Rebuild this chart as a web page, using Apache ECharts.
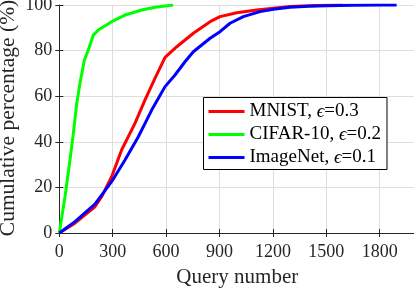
<!DOCTYPE html>
<html>
<head>
<meta charset="utf-8">
<script src="https://cdn.jsdelivr.net/npm/echarts@6/dist/echarts.min.js"></script>
<style>
html,body{margin:0;padding:0;background:#fff;}
#c{width:414px;height:288px;}
</style>
</head>
<body>
<div id="c"></div>
<script>
// ---- data ----
var seriesNames = ['MNIST', 'CIFAR-10', 'ImageNet'];
var seriesEps = ['0.3', '0.2', '0.1'];
var xTickLabels = ['0', '300', '600', '900', '1200', '1500', '1800'];
var yTickLabels = ['0', '20', '40', '60', '80', '100'];
var xTitle = 'Query number';
var yTitle = 'Cumulative percentage (%)';

var mnistX = [0, 88, 200, 238, 294, 350, 425, 481, 538, 594, 660, 753, 847, 903, 997, 1109, 1202, 1296, 1400, 1500, 1590];
var mnistY = [0, 4.3, 11.5, 15.9, 24.7, 36.4, 48.1, 58.3, 67.9, 77.0, 81.7, 87.6, 92.7, 94.9, 96.6, 97.8, 98.6, 99.3, 99.7, 99.9, 100];

var cifarX = [0, 32, 60, 79, 98, 116, 141, 163, 191, 219, 294, 369, 463, 538, 640];
var cifarY = [0, 15.9, 32, 43.7, 56.9, 65.7, 75.9, 80.3, 86.8, 89, 92.7, 95.6, 97.8, 99, 100];

var imagenetX = [0, 88, 200, 294, 369, 444, 519, 594, 650, 706, 753, 847, 903, 959, 1034, 1128, 1202, 1296, 1400, 1500, 1650, 1800, 1895];
var imagenetY = [0, 5, 12.7, 22.5, 32, 42.2, 53.9, 64.2, 69.3, 75.1, 79.5, 85.4, 88.3, 92, 94.9, 97.1, 98.1, 99, 99.5, 99.7, 99.9, 100, 100];

var colors = ['#ff0000', '#00ff00', '#0000ff'];

function pairs(xs, ys) {
  var out = [];
  for (var i = 0; i < xs.length; i++) out.push([xs[i], ys[i]]);
  return out;
}

var FONT = '"Liberation Serif", "Times New Roman", serif';
var AX = '#262626';
var chart = echarts.init(document.getElementById('c'), null, {renderer: 'canvas'});

var lineData = [pairs(mnistX, mnistY), pairs(cifarX, cifarY), pairs(imagenetX, imagenetY)];
var series = lineData.map(function (d, i) {
  return {
    name: seriesNames[i],
    type: 'line',
    data: d,
    showSymbol: false,
    symbol: 'none',
    lineStyle: {color: colors[i], width: 3},
    itemStyle: {color: colors[i]},
    xAxisIndex: 0,
    yAxisIndex: 0,
    z: 3 + i
  };
});

var option = {
  animation: false,
  backgroundColor: '#fff',
  grid: {left: 59.3, right: -1.3, top: 5, bottom: 55, containLabel: false, outerBoundsMode: 'none'},
  graphic: [{
    type: 'text',
    x: 8.5, y: 118,
    rotation: Math.PI / 2,
    style: {
      text: yTitle,
      fontFamily: FONT, fontSize: 21.5, fill: AX,
      textAlign: 'center', textVerticalAlign: 'middle'
    }
  }],
  xAxis: [{
    type: 'value', min: 0, max: 2000, interval: 300,
    name: xTitle, nameLocation: 'middle', nameGap: 34,
    nameTextStyle: {fontFamily: FONT, fontSize: 21, color: AX},
    axisLine: {show: true, lineStyle: {color: AX, width: 1}},
    axisTick: {show: true, inside: true, length: 4, lineStyle: {color: AX}},
    axisLabel: {
      fontFamily: FONT, fontSize: 18, color: AX, margin: 10, showMaxLabel: false,
      formatter: function (v) { var k = Math.round(v / 300); return xTickLabels[k] !== undefined && v % 300 === 0 ? xTickLabels[k] : ''; }
    },
    splitLine: {show: true, lineStyle: {color: '#dedede', width: 1}}
  }, {
    type: 'value', min: 0, max: 2000, interval: 300, position: 'top',
    axisLine: {show: false},
    axisTick: {show: true, inside: true, length: 4, lineStyle: {color: AX}},
    axisLabel: {show: false},
    splitLine: {show: false}
  }],
  yAxis: [{
    type: 'value', min: 0, max: 100, interval: 20,
    axisLine: {show: true, lineStyle: {color: AX, width: 1}},
    axisTick: {show: true, inside: true, length: 4, lineStyle: {color: AX}},
    axisLabel: {
      fontFamily: FONT, fontSize: 18, color: AX, margin: 7,
      formatter: function (v) { var k = Math.round(v / 20); return yTickLabels[k] !== undefined ? yTickLabels[k] : ''; }
    },
    splitLine: {show: true, lineStyle: {color: '#dedede', width: 1}}
  }, {
    type: 'value', min: 0, max: 100, interval: 20, position: 'right',
    axisLine: {show: false},
    axisTick: {show: true, inside: true, length: 4, lineStyle: {color: AX}},
    axisLabel: {show: false},
    splitLine: {show: false}
  }],
  legend: {
    orient: 'vertical',
    left: 203.5, top: 97.5,
    backgroundColor: '#fff',
    borderColor: '#000', borderWidth: 1, borderRadius: 0,
    padding: [4, 6, 2, 5],
    itemGap: 3,
    itemWidth: 36, itemHeight: 3,
    icon: 'rect',
    data: seriesNames,
    formatter: function (name) {
      var i = seriesNames.indexOf(name);
      return '{n|' + name + ', }{e|\u03f5}{n|=' + seriesEps[i] + '}';
    },
    textStyle: {
      fontFamily: FONT, fontSize: 19, color: '#000', lineHeight: 20,
      rich: {
        n: {fontFamily: FONT, fontSize: 19, color: '#000', lineHeight: 20},
        e: {fontFamily: FONT, fontSize: 19, color: '#000', fontStyle: 'italic', lineHeight: 20}
      }
    }
  },
  series: series
};
chart.setOption(option);
</script>
</body>
</html>
